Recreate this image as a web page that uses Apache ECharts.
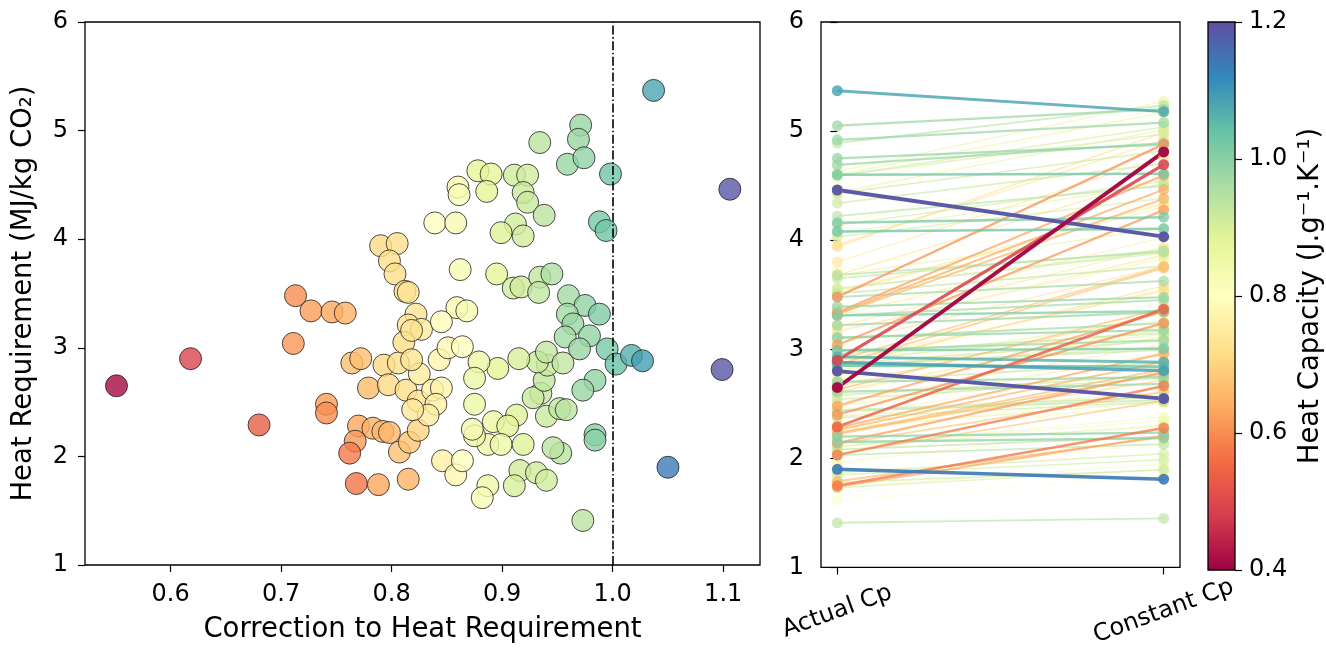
<!DOCTYPE html>
<html>
<head>
<meta charset="UTF-8">
<title>Heat requirement correction</title>
<script src="https://cdn.jsdelivr.net/npm/echarts@6.0.0/dist/echarts.min.js"></script>
<style>
  html, body { margin: 0; padding: 0; background: #fff; }
  #chart { width: 1326px; height: 649px; }
</style>
</head>
<body>
<div id="chart"></div>
<script>
// correction = actual-Cp heat / constant-Cp heat (x of the scatter)
var correction = [
  0.551, 0.618, 0.680, 0.860, 0.861, 0.839, 0.858, 0.790, 0.805, 0.798,
  0.803, 0.812, 0.815, 0.862, 0.859, 0.868, 0.713, 0.727, 0.746, 0.758,
  0.822, 0.815, 0.827, 0.845, 1.037, 0.971, 0.969, 0.934, 0.959, 0.974,
  0.998, 1.106, 0.878, 0.890, 0.886, 0.911, 0.923, 0.919, 0.923, 0.938,
  0.912, 0.899, 0.919, 0.988, 0.994, 0.895, 0.910, 0.917, 0.934, 0.945,
  0.933, 0.960, 0.975, 0.959, 0.988, 0.964, 0.957, 0.979, 0.970, 0.995,
  1.003, 1.017, 1.027, 1.099, 0.984, 0.973, 1.050, 0.984, 0.984, 0.973,
  0.953, 0.946, 0.940, 0.952, 0.935, 0.928, 0.938, 0.941, 0.932, 0.940,
  0.955, 0.915, 0.896, 0.879, 0.875, 0.875, 0.913, 0.892, 0.905, 0.887,
  0.899, 0.919, 0.875, 0.916, 0.931, 0.940, 0.911, 0.887, 0.882, 0.711,
  0.741, 0.741, 0.764, 0.772, 0.779, 0.770, 0.767, 0.762, 0.783, 0.792,
  0.798, 0.807, 0.816, 0.824, 0.768, 0.788, 0.815, 0.793, 0.806, 0.811,
  0.818, 0.797, 0.813, 0.824, 0.825, 0.837, 0.845, 0.840, 0.833, 0.819,
  0.843, 0.851, 0.864, 0.846, 0.858, 0.864, 0.873, 0.818, 0.958
];
// heat requirement with actual Cp (MJ/kg CO2)
var heatActual = [
  2.65, 2.90, 2.29, 4.48, 4.41, 4.15, 4.15, 3.94, 3.96, 3.80,
  3.68, 3.52, 3.51, 3.72, 3.37, 3.34, 3.48, 3.34, 3.33, 3.32,
  3.31, 3.21, 3.17, 3.24, 5.37, 5.05, 4.92, 4.89, 4.69, 4.75,
  4.60, 4.46, 4.63, 4.60, 4.44, 4.59, 4.59, 4.43, 4.34, 4.22,
  4.14, 4.06, 4.03, 4.16, 4.08, 3.68, 3.55, 3.56, 3.65, 3.68,
  3.51, 3.48, 3.39, 3.31, 3.31, 3.22, 3.10, 3.11, 2.99, 2.99,
  2.85, 2.93, 2.88, 2.80, 2.70, 2.61, 1.90, 2.20, 2.15, 1.41,
  2.03, 2.08, 2.37, 2.44, 2.58, 2.54, 2.70, 2.84, 2.87, 2.96,
  2.86, 2.90, 2.81, 2.87, 2.72, 2.48, 2.38, 2.32, 2.28, 2.11,
  2.11, 2.11, 2.19, 1.87, 1.85, 1.78, 1.73, 1.73, 1.62, 3.04,
  2.48, 2.40, 2.86, 2.90, 2.63, 2.28, 2.14, 2.03, 2.26, 2.23,
  2.22, 2.04, 2.13, 2.24, 1.75, 1.74, 1.79, 2.84, 2.86, 3.05,
  3.16, 2.66, 2.61, 2.51, 2.76, 2.61, 2.63, 2.48, 2.38, 2.43,
  2.89, 3.00, 3.01, 1.96, 1.83, 1.96, 2.25, 2.89, 2.43
];
// heat capacity (J/g/K)
var heatCapacity = [
  0.41, 0.49, 0.535, 0.83, 0.82, 0.80, 0.83, 0.71, 0.72, 0.72,
  0.72, 0.72, 0.73, 0.83, 0.83, 0.83, 0.60, 0.62, 0.63, 0.645,
  0.73, 0.73, 0.75, 0.79, 1.08, 0.98, 0.98, 0.94, 0.98, 0.99,
  1.03, 1.19, 0.88, 0.88, 0.88, 0.91, 0.91, 0.92, 0.92, 0.94,
  0.91, 0.89, 0.91, 1.02, 1.03, 0.88, 0.91, 0.91, 0.93, 0.95,
  0.93, 0.97, 0.99, 0.97, 1.01, 0.98, 0.97, 0.99, 0.98, 1.02,
  1.04, 1.065, 1.09, 1.19, 0.99, 0.98, 1.14, 1.00, 1.00, 0.94,
  0.94, 0.94, 0.92, 0.93, 0.92, 0.92, 0.93, 0.92, 0.92, 0.93,
  0.93, 0.90, 0.88, 0.86, 0.86, 0.86, 0.89, 0.86, 0.88, 0.85,
  0.85, 0.89, 0.85, 0.91, 0.91, 0.91, 0.90, 0.85, 0.82, 0.61,
  0.62, 0.60, 0.665, 0.665, 0.66, 0.63, 0.615, 0.575, 0.645, 0.655,
  0.655, 0.67, 0.675, 0.70, 0.57, 0.63, 0.65, 0.71, 0.72, 0.72,
  0.73, 0.71, 0.72, 0.73, 0.75, 0.76, 0.77, 0.76, 0.75, 0.74,
  0.77, 0.78, 0.80, 0.76, 0.78, 0.80, 0.84, 0.73, 0.94
];

var xTicks = [0.6, 0.7, 0.8, 0.9, 1.0, 1.1];
var cpCategories = ['Actual Cp', 'Constant Cp'];
var cbRange = [0.4, 1.2];

// matplotlib Spectral
var spectral = ['#9e0142', '#d53e4f', '#f46d43', '#fdae61', '#fee08b', '#ffffbf',
                '#e6f598', '#abdda4', '#66c2a5', '#3288bd', '#5e4fa2'];

function hexRgb(h) {
  return [parseInt(h.substr(1, 2), 16), parseInt(h.substr(3, 2), 16), parseInt(h.substr(5, 2), 16)];
}
function cmap(v) {
  var t = (v - cbRange[0]) / (cbRange[1] - cbRange[0]);
  t = Math.max(0, Math.min(1, t));
  var p = t * 10, i = Math.min(9, Math.floor(p)), f = p - i;
  var a = hexRgb(spectral[i]), b = hexRgb(spectral[i + 1]);
  return 'rgb(' + [0, 1, 2].map(function (k) { return Math.round(a[k] + (b[k] - a[k]) * f); }).join(',') + ')';
}

var font = 'DejaVu Sans';
var tickFont = 24;
var titleFont = 27.5;

// left scatter
var scatterData = correction.map(function (c, i) {
  return { value: [c, heatActual[i], heatCapacity[i]], itemStyle: { color: cmap(heatCapacity[i]) } };
});

// right panel: constant-Cp heat follows from actual / correction
var order = correction.map(function (c, i) { return i; });
order.sort(function (a, b) {
  return Math.abs(heatCapacity[a] - 0.8) - Math.abs(heatCapacity[b] - 0.8);
});
var linesData = [], endData = [];
order.forEach(function (i) {
  var d = Math.abs(heatCapacity[i] - 0.8) / 0.4;
  var col = cmap(heatCapacity[i]);
  var op = Math.min(1, 0.45 + 0.55 * d);
  var yc = heatActual[i] / correction[i];
  linesData.push({
    coords: [[0, heatActual[i]], [1, yc]],
    lineStyle: { color: col, width: 0.6 + 3.4 * d, opacity: op }
  });
  endData.push({ value: [0, heatActual[i]], itemStyle: { color: col, opacity: op } });
  endData.push({ value: [1, yc], itemStyle: { color: col, opacity: op } });
});

var stops = spectral.map(function (c, i) { return { offset: i / 10, color: c }; });

var axisText = { color: '#000', fontFamily: font, fontSize: tickFont };
var titleText = { color: '#000', fontFamily: font, fontSize: titleFont };
var tick = { show: true, length: 7, lineStyle: { color: '#000', width: 1.2 } };

var chart = echarts.init(document.getElementById('chart'));
chart.setOption({
  backgroundColor: '#fff',
  animation: false,
  grid: [
    { left: 85, top: 22, width: 675, height: 548, show: true, borderColor: '#000', borderWidth: 1.3, z: 5 },
    { left: 821, top: 22, width: 359, height: 548, show: true, borderColor: '#000', borderWidth: 1.3, z: 5 },
    { left: 1208, top: 22, width: 27, height: 548, show: true, borderColor: '#000', borderWidth: 1.3, z: 5 }
  ],
  xAxis: [
    {
      gridIndex: 0, type: 'value', min: 0.5225, max: 1.1333,
      axisLine: { show: false }, splitLine: { show: false },
      axisTick: Object.assign({ customValues: xTicks }, tick),
      axisLabel: Object.assign({ customValues: xTicks, margin: 18,
        formatter: function (v) { return v.toFixed(1); } }, axisText),
      name: 'Correction to Heat Requirement', nameLocation: 'middle', nameGap: 51,
      nameTextStyle: titleText
    },
    {
      gridIndex: 1, type: 'value', min: -0.05, max: 1.05,
      axisLine: { show: false }, splitLine: { show: false },
      axisTick: Object.assign({ customValues: [0, 1] }, tick),
      axisLabel: Object.assign({ customValues: [0, 1], rotate: 20, align: 'center',
        verticalAlign: 'middle', margin: 44,
        formatter: function (v) { return cpCategories[Math.round(v)]; } }, axisText)
    },
    { gridIndex: 2, type: 'category', data: ['cb'], show: false }
  ],
  yAxis: [
    {
      gridIndex: 0, type: 'value', min: 1, max: 6, interval: 1,
      axisLine: { show: false }, splitLine: { show: false },
      axisTick: tick, axisLabel: Object.assign({ margin: 17 }, axisText),
      name: 'Heat Requirement (MJ/kg CO₂)', nameLocation: 'middle', nameGap: 47, nameRotate: 90,
      nameTextStyle: titleText
    },
    {
      gridIndex: 1, type: 'value', min: 1, max: 6, interval: 1,
      axisLine: { show: false }, splitLine: { show: false },
      axisTick: tick, axisLabel: Object.assign({ margin: 17 }, axisText)
    },
    {
      gridIndex: 2, type: 'value', position: 'right', min: cbRange[0], max: cbRange[1], interval: 0.2,
      axisLine: { show: false }, splitLine: { show: false },
      axisTick: tick,
      axisLabel: Object.assign({ margin: 14, formatter: function (v) { return v.toFixed(1); } }, axisText),
      name: 'Heat Capacity (J.g⁻¹.K⁻¹)', nameLocation: 'middle', nameGap: 62, nameRotate: 90,
      nameTextStyle: titleText
    }
  ],
  series: [
    {
      type: 'scatter', xAxisIndex: 0, yAxisIndex: 0, symbolSize: 22,
      data: scatterData,
      itemStyle: { borderColor: '#222', borderWidth: 1 },
      markLine: {
        silent: true, symbol: 'none', label: { show: false },
        lineStyle: { color: '#000', width: 1.6, type: [9, 2.5, 1.6, 2.5] },
        data: [{ xAxis: 1.0 }]
      }
    },
    {
      type: 'lines', coordinateSystem: 'cartesian2d', xAxisIndex: 1, yAxisIndex: 1,
      data: linesData, silent: true
    },
    {
      type: 'scatter', xAxisIndex: 1, yAxisIndex: 1, symbolSize: 11,
      data: endData, z: 3
    },
    {
      type: 'bar', xAxisIndex: 2, yAxisIndex: 2, stack: 'cb', barWidth: '100%',
      data: [cbRange[0]], itemStyle: { color: 'rgba(0,0,0,0)' }, silent: true
    },
    {
      type: 'bar', xAxisIndex: 2, yAxisIndex: 2, stack: 'cb', barWidth: '100%',
      data: [cbRange[1] - cbRange[0]], silent: true,
      itemStyle: { color: new echarts.graphic.LinearGradient(0, 1, 0, 0, stops) }
    }
  ]
});
</script>
</body>
</html>
